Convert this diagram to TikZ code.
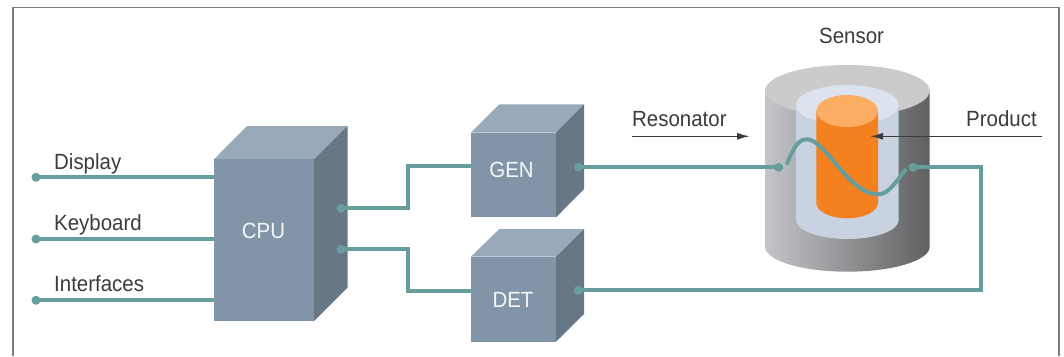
\documentclass[tikz,border=0pt]{standalone}
\usepackage{fontspec}
\setmainfont[FakeStretch=0.93]{Liberation Sans}
\usetikzlibrary{arrows.meta}
\definecolor{wire}{HTML}{669E9D}
\definecolor{front}{HTML}{8295A8}
\definecolor{topf}{HTML}{98A9BA}
\definecolor{side}{HTML}{687785}
\definecolor{ink}{HTML}{3C3C3C}
\definecolor{framec}{HTML}{7A7D82}
\definecolor{sensl}{RGB}{196,197,200}
\definecolor{sensr}{RGB}{96,96,98}
\definecolor{senst}{RGB}{203,203,201}
\definecolor{linerb}{RGB}{201,210,225}
\definecolor{linert}{RGB}{221,227,238}
\definecolor{prodb}{RGB}{245,128,32}
\definecolor{prodt}{RGB}{251,174,99}
\tikzset{
  wirel/.style={draw=wire,line width=4pt,line join=miter},
  dotn/.style={circle,fill=wire,inner sep=0pt,minimum size=9pt},
  frontface/.style={fill=front,inner sep=0pt,draw=none},
  lab/.style={font=\fontsize{22pt}{26pt}\selectfont,text=ink,anchor=base west,inner sep=0pt},
  boxlab/.style={font=\fontsize{22pt}{26pt}\selectfont,text=white!92!front,anchor=base,inner sep=0pt},
  pointer/.style={draw=ink,line width=1.6pt,-{Latex[length=13pt,width=7pt]}}
}
\begin{document}
\begin{tikzpicture}[x=1pt,y=-1pt]
\useasboundingbox (0,0) rectangle (1064,356);
\fill[white] (0,0) rectangle (1064,356);
% frame
\coordinate (fa) at (13,356);
\coordinate (fb) at (13,7.5);
\coordinate (fc) at (1059,7.5);
\coordinate (fd) at (1059,356);
\draw[framec,line width=1.3pt] (fa) -- (fb) -- (fc) -- (fd);

% CPU
\fill[topf] (214,159.3) -- (247,126) -- (347.5,126) -- (314,159.3) -- cycle;
\fill[side] (314,159.3) -- (347.5,126) -- (347.5,287.5) -- (314,321) -- cycle;
\node[frontface,minimum width=100pt,minimum height=161.7pt] (cpu) at (264,240.15) {};
\node[boxlab] (cpulab) at (263.5,238.7) {CPU};
% GEN
\fill[topf] (471,132.7) -- (499.3,104.3) -- (584,104.3) -- (556,132.7) -- cycle;
\fill[side] (556,132.7) -- (584,104.3) -- (584,189) -- (556,217.3) -- cycle;
\node[frontface,minimum width=85pt,minimum height=84.6pt] (gen) at (513.5,175) {};
\node[boxlab] (genlab) at (511.5,177.7) {GEN};
% DET
\fill[topf] (471,256.7) -- (499.3,229) -- (584,229) -- (556,256.7) -- cycle;
\fill[side] (556,256.7) -- (584,229) -- (584,314) -- (556,341.7) -- cycle;
\node[frontface,minimum width=85pt,minimum height=85pt] (det) at (513.5,299.2) {};
\node[boxlab] (detlab) at (513,307.7) {DET};

% Sensor
\shade[left color=sensl,right color=sensr]
  (765,90.7) -- (765,246.7) arc[start angle=180,end angle=360,x radius=82.35pt,y radius=25pt] -- (929.7,90.7) -- cycle;
\fill[senst] (847.35,90.7) ellipse[x radius=82.35pt,y radius=25.7pt];
\fill[linerb]
  (796,105) -- (796,220) arc[start angle=180,end angle=360,x radius=51.35pt,y radius=19pt] -- (898.7,105) -- cycle;
\fill[linert] (847.35,105) ellipse[x radius=51.35pt,y radius=20pt];
\fill[prodb]
  (816.3,111) -- (816.3,203) arc[start angle=180,end angle=360,x radius=30.85pt,y radius=15.3pt] -- (878,111) -- cycle;
\fill[prodt] (847.15,111) ellipse[x radius=30.85pt,y radius=16pt];

% dots
\node[dotn] (ddisp) at (36,177.3) {};
\node[dotn] (dkey) at (36,239) {};
\node[dotn] (dint) at (36,300.3) {};
\node[dotn] (cpua) at (341,208.3) {};
\node[dotn] (cpub) at (341,249.3) {};
\node[dotn] (gena) at (578.3,167.3) {};
\node[dotn] (deta) at (578.3,290.3) {};
\node[dotn] (resl) at (778.7,167.3) {};
\node[dotn] (resr) at (913,167.3) {};
\coordinate (ja) at (408,208.3);
\coordinate (jb) at (408,166);
\coordinate (jc) at (408,249.3);
\coordinate (jd) at (408,291);
\coordinate (je) at (980.7,167.3);
\coordinate (jf) at (980.7,290.3);
\coordinate (wa) at (786.7,164.5);
\coordinate (wb) at (906,169);

% wires
\draw[wirel] (ddisp.center) -- (ddisp.center -| cpu.west);
\draw[wirel] (dkey.center) -- (dkey.center -| cpu.west);
\draw[wirel] (dint.center) -- (dint.center -| cpu.west);
\draw[wirel] (cpua.center) -- (ja) -- (jb) -- (jb -| gen.west);
\draw[wirel] (cpub.center) -- (jc) -- (jd) -- (jd -| det.west);
\draw[wirel] (gena.center) -- (resl.center);
\draw[wirel] (deta.center) -- (jf) -- (je) -- (resr.center);
\draw[draw=wire,line width=4pt] (wa) .. controls (794,146) and (799,139.3) .. (806.7,139.3)
  .. controls (826,139.3) and (848,194.3) .. (878.3,194.3)
  .. controls (889,194.3) and (897,180) .. (wb);

% labels
\node[lab] (tdisp) at (54,169.3) {Display};
\node[lab] (tkey) at (54,230) {Keyboard};
\node[lab] (tint) at (54,291.7) {Interfaces};
\node[lab] (tsens) at (819,43) {Sensor};
\node[lab] (tres) at (632,126) {Resonator};
\node[lab] (tprod) at (966,126) {Product};

% arrows
\coordinate (ra) at (632,136.3);
\coordinate (rb) at (750,136.3);
\coordinate (pa) at (1041.7,136.3);
\coordinate (pb) at (870,136.3);
\draw[pointer] (ra) -- (rb);
\draw[pointer] (pa) -- (pb);
\end{tikzpicture}
\end{document}
